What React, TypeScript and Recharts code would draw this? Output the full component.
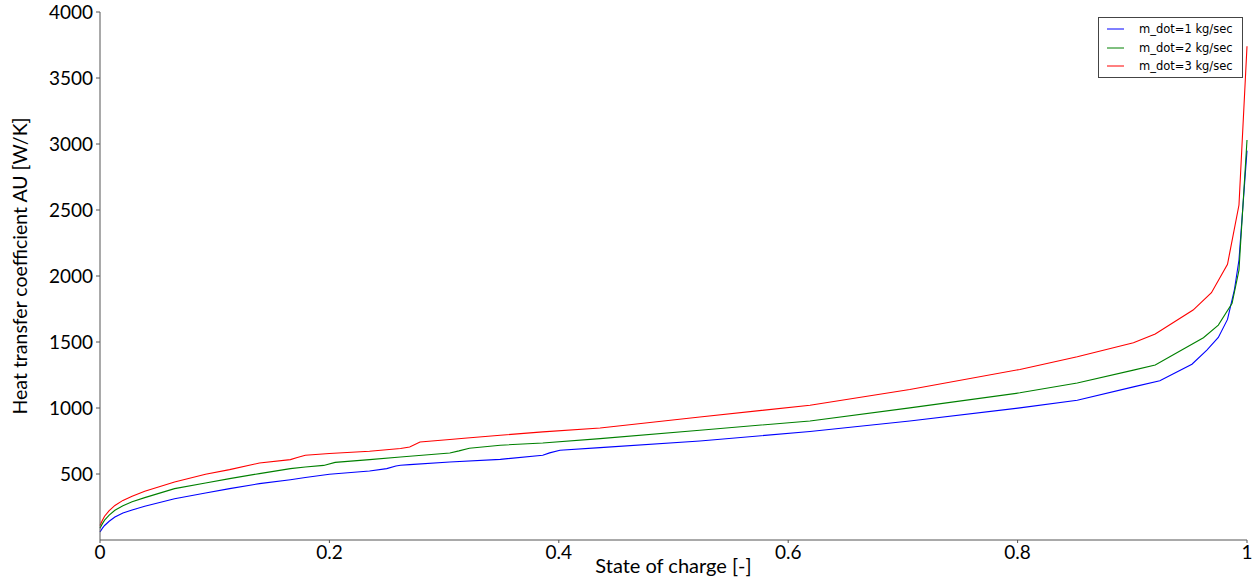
import { LineChart, Line, XAxis, YAxis } from "recharts";

// state of charge [-] and AU [W/K], one pair per mass flow
const socM1 = [0, 0.002, 0.004, 0.008, 0.013, 0.02, 0.028, 0.039, 0.065, 0.092, 0.113, 0.139, 0.166, 0.179, 0.2, 0.235, 0.25, 0.258, 0.262, 0.27, 0.305, 0.349, 0.386, 0.392, 0.401, 0.436, 0.523, 0.619, 0.706, 0.802, 0.852, 0.901, 0.924, 0.935, 0.952, 0.965, 0.975, 0.983, 0.989, 0.993, 1.0];
const auM1 = [60, 88, 110, 142, 174, 205, 228, 255, 313, 356, 389, 427, 457, 473, 498, 523, 541, 560, 566, 571, 591, 611, 642, 660, 680, 700, 750, 822, 902, 1001, 1059, 1160, 1206, 1256, 1332, 1439, 1535, 1671, 1894, 2121, 2950];

const socM2 = [0, 0.002, 0.004, 0.008, 0.013, 0.02, 0.028, 0.039, 0.065, 0.092, 0.113, 0.139, 0.166, 0.179, 0.195, 0.205, 0.235, 0.262, 0.27, 0.305, 0.313, 0.322, 0.349, 0.386, 0.436, 0.523, 0.619, 0.706, 0.802, 0.852, 0.901, 0.92, 0.935, 0.962, 0.975, 0.987, 0.993, 1.0];
const auM2 = [90, 122, 150, 188, 225, 260, 290, 321, 389, 432, 465, 503, 541, 553, 565, 588, 609, 629, 634, 659, 675, 695, 718, 735, 768, 832, 902, 1001, 1115, 1190, 1287, 1325, 1400, 1532, 1628, 1793, 2045, 3030];

const socM3 = [0, 0.002, 0.004, 0.008, 0.013, 0.02, 0.028, 0.039, 0.065, 0.092, 0.113, 0.139, 0.166, 0.172, 0.179, 0.2, 0.235, 0.262, 0.27, 0.279, 0.305, 0.32, 0.349, 0.386, 0.436, 0.523, 0.619, 0.706, 0.802, 0.852, 0.901, 0.92, 0.953, 0.969, 0.983, 0.993, 1.0];
const auM3 = [110, 148, 180, 222, 262, 300, 332, 369, 439, 498, 533, 583, 609, 625, 642, 655, 672, 693, 705, 743, 761, 773, 794, 819, 849, 932, 1021, 1140, 1292, 1388, 1494, 1560, 1742, 1873, 2089, 2538, 3740];

const xTicks = [0, 0.2, 0.4, 0.6, 0.8, 1];
const yTicks = [500, 1000, 1500, 2000, 2500, 3000, 3500, 4000];

const series = [
  { name: "m_dot=1 kg/sec", color: "#0000ff", soc: socM1, au: auM1 },
  { name: "m_dot=2 kg/sec", color: "#008000", soc: socM2, au: auM2 },
  { name: "m_dot=3 kg/sec", color: "#ff0000", soc: socM3, au: auM3 },
];

const toRows = (soc: number[], au: number[]) =>
  soc.map((s, i) => ({ soc: s, au: au[i] }));

const AXIS = "#555";
const TICK_FONT = { fill: "#000", fontSize: 19, fontFamily: "Lato" };

// matplotlib-style legend box, kept outside the chart so it takes no layout space
function LegendBox() {
  return (
    <div
      style={{
        position: "absolute",
        left: 1098,
        top: 17,
        width: 143,
        height: 59,
        border: "1px solid #444",
        background: "#fff",
        fontFamily: "DejaVu Sans",
        fontSize: 11.5,
        color: "#000",
      }}
    >
      {series.map((s, i) => (
        <div
          key={s.name}
          style={{
            position: "absolute",
            left: 0,
            top: 2 + i * 18.5,
            height: 18,
            display: "flex",
            alignItems: "center",
          }}
        >
          <svg width={40} height={18} style={{ display: "block" }}>
            <line x1={8} x2={25} y1={9} y2={9} stroke={s.color} strokeWidth={1} />
          </svg>
          <span style={{ whiteSpace: "nowrap" }}>{s.name}</span>
        </div>
      ))}
    </div>
  );
}

function YLabel() {
  return (
    <text
      x={27}
      y={266}
      transform="rotate(-90 27 266)"
      textAnchor="middle"
      fontFamily="Lato"
      fontSize={19.5}
      fill="#000"
    >
      Heat transfer coefficient AU [W/K]
    </text>
  );
}

export default function App() {
  return (
    <div
      style={{
        position: "absolute",
        left: 0,
        top: 0,
        width: 1254,
        height: 582,
        background: "#fff",
      }}
    >
      <LineChart
        width={1254}
        height={582}
        margin={{ top: 12, right: 7, bottom: 0, left: 0 }}
      >
        <XAxis
          dataKey="soc"
          type="number"
          domain={[0, 1]}
          ticks={xTicks}
          tickFormatter={(v) => String(v)}
          height={42}
          allowDuplicatedCategory={false}
          stroke={AXIS}
          tickSize={3}
          tickMargin={3}
          tick={TICK_FONT}
          label={{
            value: "State of charge [-]",
            position: "insideBottom",
            offset: 9,
            fill: "#000",
            fontSize: 20,
            fontFamily: "Lato",
          }}
        />
        <XAxis
          xAxisId="top"
          orientation="top"
          type="number"
          domain={[0, 1]}
          height={0}
          tick={false}
          tickLine={false}
          stroke={AXIS}
        />
        <YAxis
          type="number"
          domain={[0, 4000]}
          ticks={yTicks}
          width={100}
          stroke={AXIS}
          tickSize={4}
          tickMargin={3}
          tick={TICK_FONT}
          label={<YLabel />}
        />
        <YAxis
          yAxisId="right"
          orientation="right"
          domain={[0, 4000]}
          width={0}
          tick={false}
          tickLine={false}
          stroke={AXIS}
        />
        {series.map((s) => (
          <Line
            key={s.name}
            data={toRows(s.soc, s.au)}
            dataKey="au"
            name={s.name}
            type="linear"
            stroke={s.color}
            strokeWidth={1.1}
            dot={false}
            activeDot={false}
            isAnimationActive={false}
          />
        ))}
      </LineChart>
      <LegendBox />
    </div>
  );
}
